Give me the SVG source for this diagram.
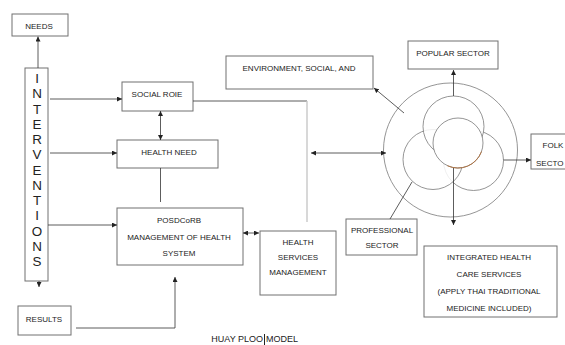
<svg xmlns="http://www.w3.org/2000/svg" width="565" height="345" viewBox="0 0 565 345">
<style>
.box{fill:#fff;stroke:#707070;stroke-width:1}
.t{font-family:"Liberation Sans",Arial,sans-serif;font-size:8px;fill:#222;text-anchor:middle}
.big{font-family:"Liberation Sans",Arial,sans-serif;font-size:13.4px;fill:#222;text-anchor:middle}
.ln{fill:none;stroke:#333;stroke-width:0.8}
.gl{fill:none;stroke:#c8c8c8;stroke-width:1.4}
.c{fill:#fff;stroke:#7a7a7a;stroke-width:0.8}
</style>
<defs>
<marker id="ah" viewBox="0 0 6 6" refX="6" refY="3" markerWidth="5" markerHeight="5" markerUnits="userSpaceOnUse" orient="auto-start-reverse">
<path d="M0,0 L6,3 L0,6 z" fill="#222"/>
</marker>
</defs>
<rect width="565" height="345" fill="#fff"/>

<g id="needs"><rect class="box" x="12" y="14" width="56" height="22"/><text class="t" x="39" y="29">NEEDS</text></g>

<g id="interventions"><rect class="box" x="25" y="68" width="23" height="213"/>
<text class="big" x="37" y="83">I</text><text class="big" x="37" y="98.25">N</text><text class="big" x="37" y="113.5">T</text><text class="big" x="37" y="128.75">E</text><text class="big" x="37" y="144">R</text><text class="big" x="37" y="159.25">V</text><text class="big" x="37" y="174.5">E</text><text class="big" x="37" y="189.75">N</text><text class="big" x="37" y="205">T</text><text class="big" x="37" y="220.25">I</text><text class="big" x="37" y="235.5">O</text><text class="big" x="37" y="250.75">N</text><text class="big" x="37" y="266">S</text></g>

<g id="social-roie"><rect class="box" x="122" y="82" width="71" height="29"/><text class="t" x="157" y="97">SOCIAL ROIE</text></g>
<g id="health-need"><rect class="box" x="117" y="140" width="101" height="28"/><text class="t" x="169" y="155">HEALTH NEED</text></g>
<g id="posdcorb"><rect class="box" x="117" y="208" width="126" height="57"/>
<text class="t" x="179" y="223">POSDCoRB</text><text class="t" x="179" y="240">MANAGEMENT OF HEALTH</text><text class="t" x="179" y="256">SYSTEM</text></g>
<g id="health-services"><rect class="box" x="260" y="231" width="76" height="64"/>
<text class="t" x="298" y="245">HEALTH</text><text class="t" x="298" y="260">SERVICES</text><text class="t" x="298" y="275">MANAGEMENT</text></g>
<g id="results"><rect class="box" x="18" y="306" width="53" height="29"/><text class="t" x="44" y="322">RESULTS</text></g>
<g id="environment"><rect class="box" x="226" y="56" width="147" height="33"/><text class="t" x="299" y="71">ENVIRONMENT, SOCIAL, AND</text></g>
<g id="popular"><rect class="box" x="408" y="41" width="90" height="28"/><text class="t" x="453" y="56">POPULAR SECTOR</text></g>
<g id="folk"><rect class="box" x="531" y="134" width="40" height="35"/><text class="t" x="553" y="148">FOLK</text><text class="t" x="536" y="166" style="text-anchor:start">SECTO</text></g>
<g id="professional"><rect class="box" x="346" y="219" width="71" height="36"/><text class="t" x="382" y="233">PROFESSIONAL</text><text class="t" x="382" y="248">SECTOR</text></g>
<g id="integrated"><rect class="box" x="424" y="246" width="133" height="71"/>
<text class="t" x="489" y="260">INTEGRATED HEALTH</text><text class="t" x="489" y="277">CARE SERVICES</text><text class="t" x="489" y="294">(APPLY THAI TRADITIONAL</text><text class="t" x="489" y="311">MEDICINE INCLUDED)</text></g>

<g id="sectors-circle">
<circle cx="450.5" cy="150" r="67" fill="none" stroke="#7a7a7a" stroke-width="0.8"/>
<circle class="c" cx="473.5" cy="160.5" r="30"/>
<circle class="c" cx="433" cy="159.5" r="30" fill-opacity="0.85"/>
<circle class="c" cx="453.5" cy="126.5" r="30.5" fill-opacity="0.85"/>
<circle class="c" cx="458" cy="143" r="25"/>
<path d="M481.5,151.5 A25,25 0 0 1 447.4,165.7" fill="none" stroke="#b07545" stroke-width="1"/>
</g>

<g id="title"><text style="font-family:'Liberation Sans',Arial,sans-serif;font-size:9px;fill:#222" x="263" y="342" text-anchor="end">HUAY PLOO</text>
<line x1="264.5" y1="334" x2="264.5" y2="345" stroke="#222" stroke-width="1"/>
<text style="font-family:'Liberation Sans',Arial,sans-serif;font-size:9px;fill:#222" x="266" y="342">MODEL</text></g>

<g id="connectors">
<line class="ln" x1="38" y1="68" x2="38" y2="36.5" marker-end="url(#ah)"/>
<line class="ln" x1="39" y1="281" x2="39" y2="287" marker-end="url(#ah)"/>
<line class="ln" x1="50" y1="99" x2="122" y2="99" marker-end="url(#ah)"/>
<line class="ln" x1="50" y1="153" x2="117" y2="153" marker-end="url(#ah)"/>
<line class="ln" x1="48" y1="225" x2="117" y2="225" marker-end="url(#ah)"/>
<line class="ln" x1="160.5" y1="111" x2="160.5" y2="140" marker-start="url(#ah)" marker-end="url(#ah)"/>
<line class="ln" x1="160.5" y1="168" x2="160.5" y2="202"/>
<polyline class="ln" points="193,101 307,101"/>
<line class="gl" x1="307" y1="101" x2="307" y2="222"/>
<line class="ln" x1="243" y1="233" x2="259" y2="233" marker-start="url(#ah)" marker-end="url(#ah)"/>
<polyline class="ln" points="76,328 175,328 175,277" marker-end="url(#ah)"/>
<line class="ln" x1="311" y1="153" x2="386" y2="153" marker-start="url(#ah)" marker-end="url(#ah)"/>
<line class="ln" x1="404" y1="113" x2="374" y2="88" marker-end="url(#ah)"/>
<line class="ln" x1="453.5" y1="96" x2="453.5" y2="70" marker-end="url(#ah)"/>
<line class="ln" x1="503.5" y1="160" x2="531" y2="160" marker-end="url(#ah)"/>
<line class="ln" x1="453.5" y1="168" x2="453.5" y2="225" marker-end="url(#ah)"/>
<line class="ln" x1="412" y1="182" x2="390" y2="219"/>
</g>
</svg>
